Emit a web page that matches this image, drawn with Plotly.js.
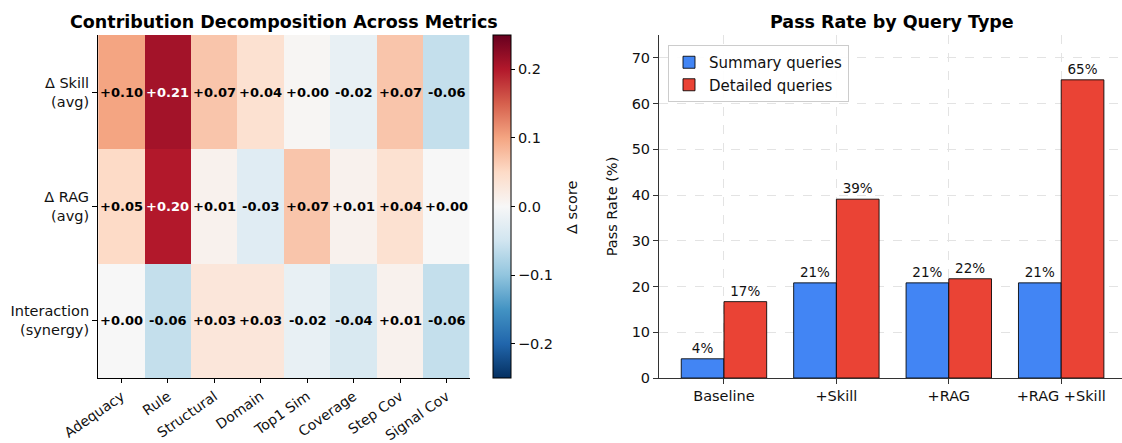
<!DOCTYPE html>
<html>
<head>
<meta charset="utf-8">
<script src="https://cdn.plot.ly/plotly-3.0.1.min.js"></script>
<style>html,body{margin:0;padding:0;background:#fff;}#chart{width:1122px;height:443px;}</style>
</head>
<body>
<div id="chart"></div>
<script>
// ---- data ----
const metrics = ['Adequacy', 'Rule', 'Structural', 'Domain', 'Top1 Sim', 'Coverage', 'Step Cov', 'Signal Cov'];
const rowLabels = ['Δ Skill<br>(avg)', 'Δ RAG<br>(avg)', 'Interaction<br>(synergy)'];
const skillDelta = [0.10, 0.21, 0.07, 0.04, 0.004, -0.02, 0.07, -0.06];
const ragDelta = [0.05, 0.20, 0.01, -0.03, 0.07, 0.01, 0.04, 0.00];
const interaction = [0.00, -0.06, 0.03, 0.03, -0.02, -0.04, 0.01, -0.06];

const queryConfigs = ['Baseline', '+Skill', '+RAG', '+RAG +Skill'];
const summaryRate = [4.2, 20.8, 20.8, 20.8];
const detailedRate = [16.7, 39.1, 21.7, 65.2];

// ---- styling ----
const FONT = 'DejaVu Sans, Liberation Sans, sans-serif';
const TXT = '#111';
const TICK = 14.5;
const rdbuR = [
  [0.0, '#053061'], [0.1, '#2166ac'], [0.2, '#4393c3'], [0.3, '#92c5de'],
  [0.4, '#d1e5f0'], [0.5, '#f7f7f7'], [0.6, '#fddbc7'], [0.7, '#f4a582'],
  [0.8, '#d6604d'], [0.9, '#b2182b'], [1.0, '#67001f']
];
const W = 1122, H = 443;
const px = v => v / W;
const py = v => 1 - v / H;

const zRows = [skillDelta, ragDelta, interaction];

const heat = {
  type: 'heatmap',
  x: metrics,
  y: rowLabels,
  z: zRows,
  zmin: -0.25, zmax: 0.25,
  colorscale: rdbuR,
  xaxis: 'x', yaxis: 'y',
  hoverinfo: 'skip',
  colorbar: {
    x: px(493), xanchor: 'left', xpad: 0,
    y: py(206.5), yanchor: 'middle', ypad: 0,
    len: 343, lenmode: 'pixels',
    thickness: 18, thicknessmode: 'pixels',
    outlinewidth: 1, outlinecolor: '#000',
    ticks: 'outside', ticklen: 4, tickcolor: '#000',
    tickvals: [-0.2, -0.1, 0, 0.1, 0.2],
    ticktext: ['−0.2', '−0.1', '0.0', '0.1', '0.2'],
    tickfont: {family: FONT, size: TICK, color: TXT}
  }
};

const summaryBar = {
  type: 'bar', name: 'Summary queries',
  x: queryConfigs, y: summaryRate,
  xaxis: 'x2', yaxis: 'y2',
  marker: {color: '#4285F4', line: {color: 'rgba(0,0,0,0.85)', width: 1}},
  texttemplate: '%{y:.0f}%', textposition: 'outside', cliponaxis: false,
  textfont: {family: FONT, size: 13.5, color: TXT},
  hoverinfo: 'skip'
};
const detailedBar = {
  type: 'bar', name: 'Detailed queries',
  x: queryConfigs, y: detailedRate,
  xaxis: 'x2', yaxis: 'y2',
  marker: {color: '#EA4335', line: {color: 'rgba(0,0,0,0.85)', width: 1}},
  texttemplate: '%{y:.0f}%', textposition: 'outside', cliponaxis: false,
  textfont: {family: FONT, size: 13.5, color: TXT},
  hoverinfo: 'skip'
};

const annotations = [];
zRows.forEach((row, r) => {
  row.forEach((v, c) => {
    const s = (v >= 0 ? '+' : '-') + Math.abs(v).toFixed(2);
    annotations.push({
      xref: 'x', yref: 'y', x: metrics[c], y: rowLabels[r],
      text: '<b>' + s + '</b>', showarrow: false,
      font: {family: FONT, size: 13, color: Math.abs(v) > 0.15 ? '#fff' : '#000'}
    });
  });
});
annotations.push({
  xref: 'paper', yref: 'paper', x: px(284), y: py(22), xanchor: 'center', yanchor: 'middle',
  text: '<b>Contribution Decomposition Across Metrics</b>', showarrow: false,
  font: {family: FONT, size: 17.5, color: '#000'}
});
annotations.push({
  xref: 'paper', yref: 'paper', x: px(892), y: py(22), xanchor: 'center', yanchor: 'middle',
  text: '<b>Pass Rate by Query Type</b>', showarrow: false,
  font: {family: FONT, size: 17.5, color: '#000'}
});
annotations.push({
  xref: 'paper', yref: 'paper', x: px(572), y: py(207), xanchor: 'center', yanchor: 'middle',
  text: 'Δ score', textangle: -90, showarrow: false,
  font: {family: FONT, size: TICK, color: TXT}
});

const layout = {
  width: W, height: H,
  margin: {l: 0, r: 0, t: 0, b: 0},
  paper_bgcolor: '#fff', plot_bgcolor: '#fff',
  font: {family: FONT, size: TICK, color: TXT},
  showlegend: true,
  barmode: 'group', bargap: 0.24, bargroupgap: 0,
  xaxis: {
    domain: [px(98), px(470)], anchor: 'y',
    showline: true, linecolor: '#000', linewidth: 1,
    ticks: 'outside', ticklen: 4, tickcolor: '#000',
    tickangle: -35, showgrid: false, zeroline: false,
    tickfont: {family: FONT, size: 14, color: TXT}
  },
  yaxis: {
    domain: [py(378), py(35)], anchor: 'x',
    autorange: 'reversed',
    showline: true, linecolor: '#000', linewidth: 1,
    ticks: 'outside', ticklen: 5, tickcolor: '#000',
    showgrid: false, zeroline: false,
    tickfont: {family: FONT, size: TICK, color: TXT}
  },
  xaxis2: {
    domain: [px(659), 1], anchor: 'y2',
    range: [-0.578, 3.541],
    showline: true, linecolor: '#333', linewidth: 1,
    ticks: 'outside', ticklen: 5, tickcolor: '#333',
    showgrid: true, gridcolor: '#e3e3e3', griddash: 'dash', gridwidth: 1,
    zeroline: false,
    tickfont: {family: FONT, size: TICK, color: TXT}
  },
  yaxis2: {
    domain: [py(378), py(35)], anchor: 'x2',
    range: [0, 75], dtick: 10,
    showline: true, linecolor: '#333', linewidth: 1,
    ticks: 'outside', ticklen: 5, tickcolor: '#333',
    showgrid: true, gridcolor: '#e3e3e3', griddash: 'dash', gridwidth: 1,
    zeroline: false,
    tickfont: {family: FONT, size: TICK, color: TXT},
    title: {text: 'Pass Rate (%)', font: {family: FONT, size: TICK, color: TXT}, standoff: 10}
  },
  legend: {
    x: px(668), y: py(45), xanchor: 'left', yanchor: 'top',
    bgcolor: 'rgba(255,255,255,0.9)', bordercolor: '#cccccc', borderwidth: 1,
    font: {family: FONT, size: 15, color: TXT},
    tracegroupgap: 0
  },
  annotations: annotations
};

Plotly.newPlot('chart', [heat, summaryBar, detailedBar], layout, {displayModeBar: false, staticPlot: true});
</script>
</body>
</html>
